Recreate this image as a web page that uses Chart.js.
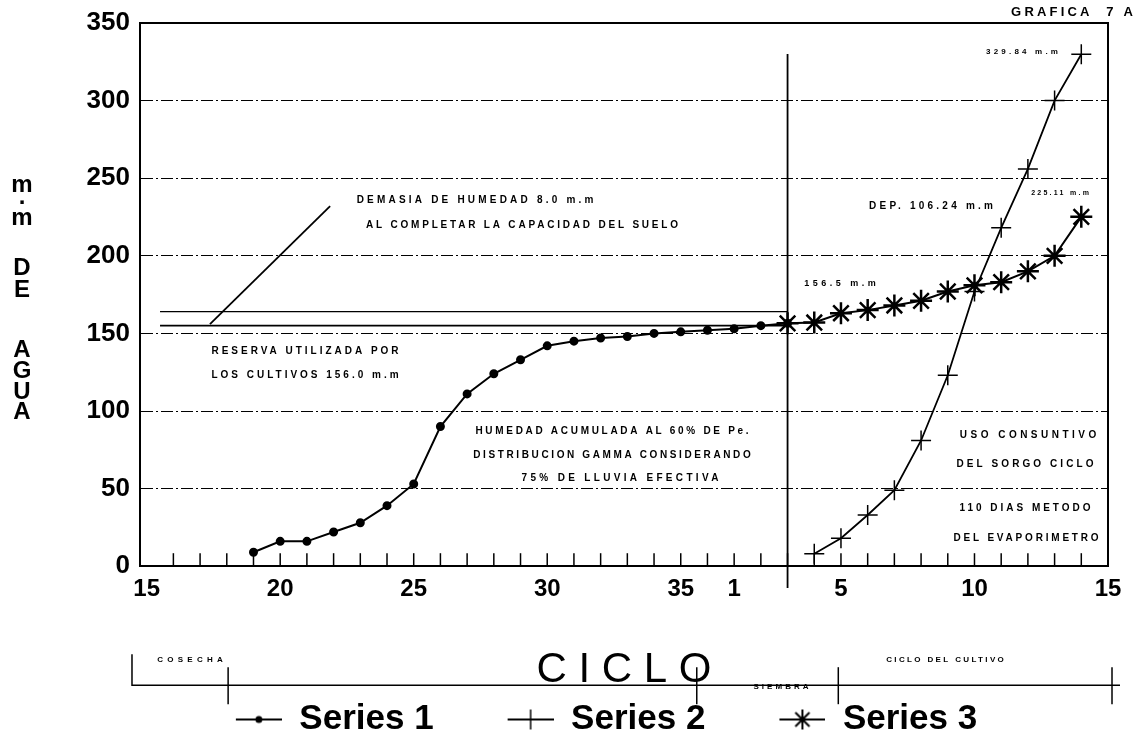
<!DOCTYPE html>
<html>
<head>
<meta charset="utf-8">
<script src="https://cdn.jsdelivr.net/npm/chart.js@4"></script>
<style>
  body { margin: 0; background: #fff; }
  #wrap { width: 1143px; height: 741px; }
</style>
</head>
<body>
<div id="wrap"><canvas id="grafica"></canvas></div>
<script>
// dekadas del año (eje X), de la 15 a la 36 y de la 1 a la 15
var dekads = [15,16,17,18,19,20,21,22,23,24,25,26,27,28,29,30,31,32,33,34,35,36,
              1,2,3,4,5,6,7,8,9,10,11,12,13,14,15];

// humedad acumulada (Series 1)
var series1 = [null,null,null,null,
  9,16,16,22,28,39,53,90,111,124,133,142,145,147,148,150,151,152,153,155,156.5,
  null,null,null,null,null,null,null,null,null,null,null,null];
// uso consuntivo (Series 2)
var series2 = [null,null,null,null,null,null,null,null,null,null,null,null,null,
  null,null,null,null,null,null,null,null,null,null,null,null,
  8,18,33,49,81,123,177,218,256,300,329.84, null];
// reserva + lluvia (Series 3)
var series3 = [null,null,null,null,null,null,null,null,null,null,null,null,null,
  null,null,null,null,null,null,null,null,null,null,null,
  156.5,157,163,165,168,171,177,181,183,190,200,225.11, null];

var yTicks = [0,50,100,150,200,250,300,350];

// lineas de referencia
var capacidad = 164;
var reserva = 155;
var siembra = 24;

var toPoints = function(arr) {
  return arr.map(function(v, i) { return v == null ? null : {x: i, y: v}; })
            .filter(function(p) { return p; });
};

var FONT = "'Liberation Sans', Arial, sans-serif";

// textos sobre la grafica (centro x, y en pixeles, ancho deseado, tamaño)
var notes = [
  {t: 'DEMASIA DE HUMEDAD 8.0 m.m', x: 475, y: 200, w: 240, s: 10},
  {t: 'AL COMPLETAR LA CAPACIDAD DEL SUELO', x: 522, y: 225, w: 315, s: 10},
  {t: 'RESERVA UTILIZADA POR', x: 305, y: 351, w: 190, s: 10},
  {t: 'LOS CULTIVOS 156.0 m.m', x: 305, y: 375, w: 190, s: 10},
  {t: 'HUMEDAD ACUMULADA AL 60% DE Pe.', x: 612, y: 431, w: 276, s: 10},
  {t: 'DISTRIBUCION GAMMA CONSIDERANDO', x: 612, y: 455, w: 280, s: 10},
  {t: '75% DE LLUVIA EFECTIVA', x: 620, y: 478, w: 200, s: 10},
  {t: 'USO CONSUNTIVO', x: 1028, y: 435, w: 140, s: 10},
  {t: 'DEL SORGO CICLO', x: 1025, y: 464, w: 140, s: 10},
  {t: '110 DIAS METODO', x: 1025, y: 508, w: 134, s: 10},
  {t: 'DEL EVAPORIMETRO', x: 1026, y: 538, w: 148, s: 10},
  {t: 'DEP. 106.24 m.m', x: 931, y: 206, w: 127, s: 10},
  {t: '225.11 m.m', x: 1060, y: 193, w: 60, s: 7},
  {t: '329.84 m.m', x: 1022, y: 52, w: 75, s: 8},
  {t: '156.5 m.m', x: 840, y: 284, w: 75, s: 9},
  {t: 'GRAFICA  7 A', x: 1072, y: 12, w: 125, s: 13},
  {t: 'COSECHA', x: 190, y: 660, w: 70, s: 8},
  {t: 'SIEMBRA', x: 781, y: 687, w: 58, s: 8},
  {t: 'CICLO DEL CULTIVO', x: 945, y: 660, w: 120, s: 8}
];

var yTitle = [['m',185],['.',197],['m',218],['D',268],['E',290],['A',350],['G',371],['U',392],['A',412]];

// marcas de la linea de tiempo inferior (en unidades del eje X)
var timelineStart = -0.55, timelineEnd = 36.45;
var timelineMarks = [3.05, 20.6, 25.9, 36.15];

function sample(style) {
  var c = document.createElement('canvas');
  c.width = 116; c.height = 26;
  var g = c.getContext('2d');
  g.strokeStyle = '#000'; g.fillStyle = '#000'; g.lineWidth = 2;
  g.beginPath(); g.moveTo(70, 13); g.lineTo(116, 13); g.stroke();
  var cx = 93, cy = 13;
  if (style === 'circle') {
    g.beginPath(); g.arc(cx, cy, 3.5, 0, Math.PI * 2); g.fill();
  } else if (style === 'cross') {
    g.lineWidth = 1.5;
    g.beginPath(); g.moveTo(cx, cy - 10); g.lineTo(cx, cy + 10); g.stroke();
  } else {
    g.lineWidth = 2;
    for (var k = 0; k < 4; k++) {
      var a = k * Math.PI / 4;
      g.beginPath();
      g.moveTo(cx - 10 * Math.sin(a), cy - 10 * Math.cos(a));
      g.lineTo(cx + 10 * Math.sin(a), cy + 10 * Math.cos(a));
      g.stroke();
    }
  }
  return c;
}
var samples = [sample('circle'), sample('cross'), sample('star')];

var decor = {
  id: 'decor',
  beforeDatasetsDraw: function(chart) {
    var ctx = chart.ctx, a = chart.chartArea, xs = chart.scales.x;
    ctx.save();
    ctx.strokeStyle = '#000';
    ctx.lineWidth = 2;
    // marco superior y derecho
    ctx.beginPath();
    ctx.moveTo(a.left, a.top); ctx.lineTo(a.right, a.top); ctx.lineTo(a.right, a.bottom);
    ctx.stroke();
    // marcas de dekadas hacia adentro
    ctx.lineWidth = 1.5;
    for (var i = 1; i < dekads.length - 1; i++) {
      var px = xs.getPixelForValue(i);
      ctx.beginPath(); ctx.moveTo(px, a.bottom); ctx.lineTo(px, a.bottom - 13); ctx.stroke();
    }
    ctx.restore();
  },
  afterDraw: function(chart) {
    var ctx = chart.ctx, a = chart.chartArea, xs = chart.scales.x;
    ctx.save();
    ctx.fillStyle = '#000';
    ctx.textAlign = 'center';
    ctx.textBaseline = 'middle';
    notes.forEach(function(n) {
      ctx.font = 'bold ' + n.s + 'px ' + FONT;
      ctx.letterSpacing = '0px';
      var w0 = ctx.measureText(n.t).width;
      var sp = Math.max(0, (n.w - w0) / n.t.length);
      ctx.letterSpacing = sp.toFixed(2) + 'px';
      ctx.fillText(n.t, n.x + sp / 2, n.y);
    });
    ctx.letterSpacing = '0px';
    ctx.font = 'bold 24px ' + FONT;
    yTitle.forEach(function(l) { ctx.fillText(l[0], 22, l[1]); });

    // linea de tiempo: cosecha / siembra / ciclo del cultivo
    var yb = a.bottom + 119;
    ctx.strokeStyle = '#000';
    ctx.lineWidth = 1.5;
    var x0 = xs.getPixelForValue(timelineStart), x1 = xs.getPixelForValue(timelineEnd);
    ctx.beginPath();
    ctx.moveTo(x0, yb - 31); ctx.lineTo(x0, yb); ctx.lineTo(x1, yb);
    ctx.stroke();
    timelineMarks.forEach(function(m) {
      var px = xs.getPixelForValue(m);
      ctx.beginPath(); ctx.moveTo(px, yb - 18); ctx.lineTo(px, yb + 19); ctx.stroke();
    });
    ctx.restore();
  }
};

var guide = {borderColor: '#000', pointRadius: 0, pointHoverRadius: 0, fill: false, tension: 0};

new Chart(document.getElementById('grafica'), {
  type: 'line',
  data: {
    datasets: [
      {label: 'Series 1', data: toPoints(series1), borderColor: '#000', backgroundColor: '#000',
       borderWidth: 2, pointStyle: 'circle', pointRadius: 3.5, tension: 0},
      {label: 'Series 2', data: toPoints(series2), borderColor: '#000', backgroundColor: '#000',
       borderWidth: 1.8, pointStyle: 'cross', pointRadius: 10, pointBorderWidth: 1.5, tension: 0},
      {label: 'Series 3', data: toPoints(series3), borderColor: '#000', backgroundColor: '#000',
       borderWidth: 2, pointStyle: 'star', pointRadius: 11, pointBorderWidth: 2.5, tension: 0},
      Object.assign({data: [{x: 0.5, y: capacidad}, {x: siembra, y: capacidad}], borderWidth: 1.2}, guide),
      Object.assign({data: [{x: 0.5, y: reserva}, {x: siembra, y: reserva}], borderWidth: 1.8}, guide),
      Object.assign({data: [{x: 2.37, y: 156}, {x: 6.87, y: 232}], borderWidth: 1.8}, guide),
      Object.assign({data: [{x: siembra, y: -14}, {x: siembra, y: 330}], borderWidth: 1.8, clip: false}, guide)
    ]
  },
  options: {
    responsive: true,
    maintainAspectRatio: false,
    animation: false,
    layout: {padding: {left: 35, right: 35, top: 12, bottom: -6}},
    scales: {
      x: {
        type: 'linear',
        min: -0.25,
        max: 36,
        afterBuildTicks: function(s) { s.ticks = dekads.map(function(d, i) { return {value: i}; }); },
        grid: {display: false, drawTicks: false},
        border: {display: true, color: '#000', width: 2},
        ticks: {
          autoSkip: false, maxRotation: 0, padding: 9, color: '#000',
          font: {family: FONT, size: 24, weight: 'bold'},
          callback: function(v) {
            var d = dekads[v];
            return (d % 5 === 0 || d === 1) ? String(d) : '';
          }
        },
        title: {
          display: true, text: 'C I C L O', color: '#000',
          font: {family: FONT, size: 42, weight: 'normal', lineHeight: 1},
          padding: {top: 36, bottom: 7}
        }
      },
      y: {
        min: 0,
        max: 350,
        afterBuildTicks: function(s) { s.ticks = yTicks.map(function(v) { return {value: v}; }); },
        afterFit: function(s) { s.width = 105; },
        grid: {
          drawTicks: false, lineWidth: 1,
          color: function(c) { return (c.tick && (c.tick.value === 0 || c.tick.value === 350)) ? 'rgba(0,0,0,0)' : '#000'; }
        },
        border: {display: true, color: '#000', width: 2, dash: [12, 3, 2, 3]},
        ticks: {padding: 10, color: '#000', font: {family: FONT, size: 26, weight: 'bold', lineHeight: 1}}
      }
    },
    plugins: {
      tooltip: {enabled: false},
      legend: {
        position: 'bottom',
        labels: {
          color: '#000',
          font: {family: FONT, size: 35, weight: 'bold'},
          usePointStyle: true,
          pointStyleWidth: 116,
          padding: 4,
          filter: function(item) { return item.datasetIndex < 3; },
          generateLabels: function(chart) {
            var items = Chart.defaults.plugins.legend.labels.generateLabels(chart);
            items.forEach(function(it) { if (it.datasetIndex < 3) it.pointStyle = samples[it.datasetIndex]; });
            return items;
          }
        }
      }
    }
  },
  plugins: [decor]
});
</script>
</body>
</html>
